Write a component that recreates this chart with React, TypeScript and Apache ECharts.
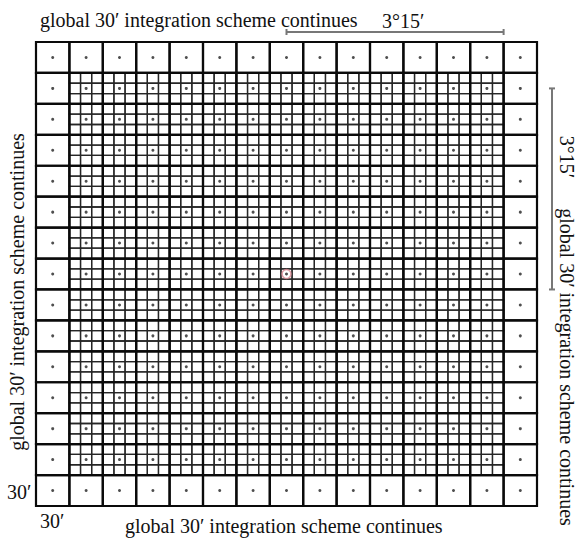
import React, { useEffect, useRef } from "react";
import * as echarts from "echarts";

// ---- structure of the integration scheme (arcminutes) ----
const COARSE_COUNT = 15; // number of 30' cells per side
const COARSE_STEP = 30; // size of a global cell, arcminutes
const FINE_DIVISIONS = 3; // refined cells per global cell side (10')
const COARSE_RING = 1; // outer ring of global cells kept coarse
const CENTER_POINTS = [[0, 0]]; // computation point
const TOP_SPAN = [0, 195]; // 3°15′ bracket along x (minutes)
const RIGHT_SPAN = [-15, 180]; // 3°15′ bracket along y (minutes)

// ---- texts ----
const SCHEME_LABEL = "global 30′ integration scheme continues";
const SPAN_LABEL = "3°15′";
const CELL_LABEL = "30′";

const HALF = (COARSE_COUNT * COARSE_STEP) / 2;

const coarseCells: number[][] = [];
const fineCells: number[][] = [];
const cellCenters: number[][] = [];
for (let i = 0; i < COARSE_COUNT; i++) {
  for (let j = 0; j < COARSE_COUNT; j++) {
    const x0 = -HALF + i * COARSE_STEP;
    const y0 = -HALF + j * COARSE_STEP;
    coarseCells.push([x0, y0, COARSE_STEP]);
    cellCenters.push([x0 + COARSE_STEP / 2, y0 + COARSE_STEP / 2]);
    const inner =
      i >= COARSE_RING &&
      j >= COARSE_RING &&
      i < COARSE_COUNT - COARSE_RING &&
      j < COARSE_COUNT - COARSE_RING;
    if (inner) {
      const f = COARSE_STEP / FINE_DIVISIONS;
      for (let a = 0; a < FINE_DIVISIONS; a++) {
        for (let b = 0; b < FINE_DIVISIONS; b++) {
          fineCells.push([x0 + a * f, y0 + b * f, f]);
        }
      }
    }
  }
}

const FONT = "'Liberation Serif', 'Times New Roman', serif";

function cellRenderer(stroke: string, lineWidth: number) {
  return (params: any, api: any) => {
    const x0 = api.value(0);
    const y0 = api.value(1);
    const s = api.value(2);
    const p0 = api.coord([x0, y0 + s]);
    const p1 = api.coord([x0 + s, y0]);
    return {
      type: "rect",
      shape: { x: p0[0], y: p0[1], width: p1[0] - p0[0], height: p1[1] - p0[1] },
      style: { fill: "none", stroke, lineWidth },
    };
  };
}

export default function App() {
  const ref = useRef<HTMLDivElement>(null);
  useEffect(() => {
    if (!ref.current) return;
    const chart = echarts.init(ref.current, null, { renderer: "svg" });
    const bracketData = [
      [TOP_SPAN[0], TOP_SPAN[1], 0],
      [RIGHT_SPAN[0], RIGHT_SPAN[1], 1],
    ];
    chart.setOption({
      animation: false,
      backgroundColor: "#ffffff",
      grid: { left: 36, top: 42, width: 501, height: 464 },
      xAxis: {
        type: "value",
        min: -HALF,
        max: HALF,
        show: false,
      },
      yAxis: {
        type: "value",
        min: -HALF,
        max: HALF,
        show: false,
      },
      series: [
        {
          type: "custom",
          name: "fine",
          data: fineCells,
          renderItem: cellRenderer("#262626", 1.3),
          silent: true,
          z: 1,
        },
        {
          type: "custom",
          name: "coarse",
          data: coarseCells,
          renderItem: cellRenderer("#0a0a0a", 2.2),
          silent: true,
          z: 2,
        },
        {
          type: "scatter",
          name: "centers",
          data: cellCenters,
          symbol: "circle",
          symbolSize: 3,
          itemStyle: { color: "#222" },
          silent: true,
          z: 3,
        },
        {
          type: "scatter",
          name: "point",
          data: CENTER_POINTS,
          symbol: "circle",
          symbolSize: 9,
          itemStyle: { color: "rgba(0,0,0,0)", borderColor: "#d98a93", borderWidth: 1.6 },
          silent: true,
          z: 4,
        },
        {
          type: "custom",
          name: "brackets",
          data: bracketData,
          clip: false,
          silent: true,
          renderItem: (params: any, api: any) => {
            const a = api.value(0);
            const b = api.value(1);
            const dir = api.value(2);
            const style = { stroke: "#777", lineWidth: 2 };
            if (dir === 0) {
              const pa = api.coord([a, HALF]);
              const pb = api.coord([b, HALF]);
              const y = pa[1] - 10;
              return {
                type: "group",
                children: [
                  { type: "line", shape: { x1: pa[0], y1: y, x2: pb[0], y2: y }, style },
                  { type: "line", shape: { x1: pa[0], y1: y - 3, x2: pa[0], y2: y + 3 }, style },
                  { type: "line", shape: { x1: pb[0], y1: y - 3, x2: pb[0], y2: y + 3 }, style },
                ],
              };
            }
            const pa = api.coord([HALF, a]);
            const pb = api.coord([HALF, b]);
            const x = pa[0] + 15;
            return {
              type: "group",
              children: [
                { type: "line", shape: { x1: x, y1: pa[1], x2: x, y2: pb[1] }, style },
                { type: "line", shape: { x1: x - 3, y1: pa[1], x2: x + 3, y2: pa[1] }, style },
                { type: "line", shape: { x1: x - 3, y1: pb[1], x2: x + 3, y2: pb[1] }, style },
              ],
            };
          },
          z: 5,
        },
      ],
      graphic: [
        {
          type: "text",
          x: 40,
          y: 20,
          style: { text: SCHEME_LABEL, font: `20px ${FONT}`, fill: "#111", textAlign: "left", textVerticalAlign: "middle" },
        },
        {
          type: "text",
          x: 382,
          y: 21,
          style: { text: SPAN_LABEL, font: `20px ${FONT}`, fill: "#111", textAlign: "left", textVerticalAlign: "middle" },
        },
        {
          type: "text",
          x: 125,
          y: 526,
          style: { text: SCHEME_LABEL, font: `20px ${FONT}`, fill: "#111", textAlign: "left", textVerticalAlign: "middle" },
        },
        {
          type: "text",
          x: 40,
          y: 521,
          style: { text: CELL_LABEL, font: `20px ${FONT}`, fill: "#111", textAlign: "left", textVerticalAlign: "middle" },
        },
        {
          type: "text",
          x: 7,
          y: 492,
          style: { text: CELL_LABEL, font: `20px ${FONT}`, fill: "#111", textAlign: "left", textVerticalAlign: "middle" },
        },
        {
          type: "text",
          x: 17,
          y: 292,
          rotation: Math.PI / 2,
          style: { text: SCHEME_LABEL, font: `20px ${FONT}`, fill: "#111", textAlign: "center", textVerticalAlign: "middle" },
        },
        {
          type: "text",
          x: 567,
          y: 157,
          rotation: -Math.PI / 2,
          style: { text: SPAN_LABEL, font: `20px ${FONT}`, fill: "#111", textAlign: "center", textVerticalAlign: "middle" },
        },
        {
          type: "text",
          x: 567,
          y: 367,
          rotation: -Math.PI / 2,
          style: { text: SCHEME_LABEL, font: `20px ${FONT}`, fill: "#111", textAlign: "center", textVerticalAlign: "middle" },
        },
      ],
    });
    return () => chart.dispose();
  }, []);
  return (
    <div
      ref={ref}
      style={{ position: "fixed", left: 0, top: 0, width: 582, height: 540, background: "#fff" }}
    />
  );
}
